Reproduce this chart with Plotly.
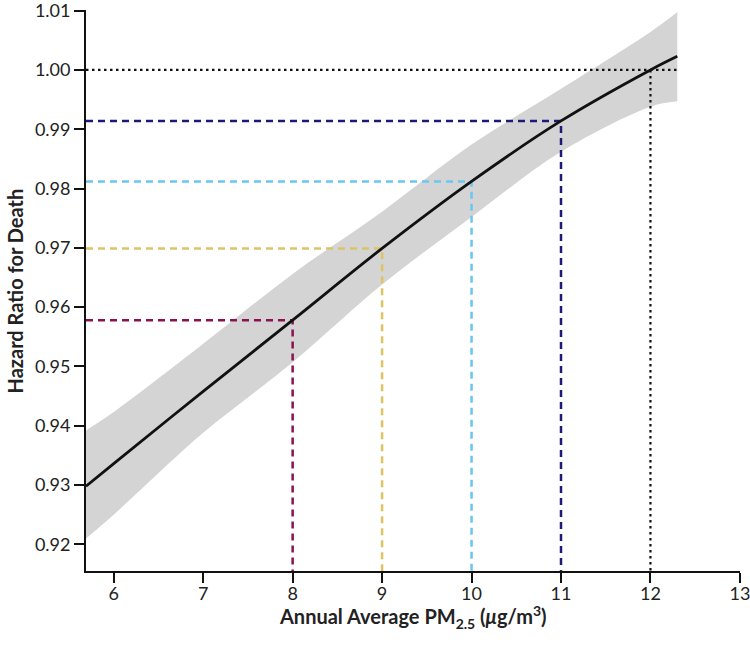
import plotly.graph_objects as go

# Data
pm25 = [5.69, 6, 7, 8, 9, 10, 11, 12, 12.3]
hazard_ratio = [0.9298, 0.9336, 0.9458, 0.9578, 0.9699, 0.9812, 0.9914, 1.0000, 1.0023]
ci_upper = [0.9392, 0.9423, 0.9538, 0.9656, 0.9761, 0.9874, 0.9968, 1.0064, 1.0097]
ci_lower = [0.9210, 0.9250, 0.9388, 0.9507, 0.9638, 0.9752, 0.9862, 0.9938, 0.9947]

ref_pm = [8, 9, 10, 11]
ref_hr = [0.9578, 0.9699, 0.9812, 0.9914]
ref_colors = ["#8b1250", "#dcc366", "#6cc6ef", "#1c1a78"]

standard_pm = 12
standard_hr = 1.00

x_ticks = [6, 7, 8, 9, 10, 11, 12, 13]
y_ticks = [0.92, 0.93, 0.94, 0.95, 0.96, 0.97, 0.98, 0.99, 1.00, 1.01]

x_title = "<b>Annual Average PM<sub>2.5</sub> (<i>μ</i>g/m<sup>3</sup>)</b>"
y_title = "<b>Hazard Ratio for Death</b>"

x_min, x_max = 5.69, 13.001
y_min, y_max = 0.9155, 1.0101

fig = go.Figure()

# Confidence band
fig.add_trace(go.Scatter(x=pm25, y=ci_upper, mode="lines", line=dict(width=0, shape="spline"),
                         hoverinfo="skip", showlegend=False))
fig.add_trace(go.Scatter(x=pm25, y=ci_lower, mode="lines", line=dict(width=0, shape="spline"),
                         fill="tonexty", fillcolor="#d4d4d4", hoverinfo="skip", showlegend=False))

# Reference dashed lines
for xv, yv, c in zip(ref_pm, ref_hr, ref_colors):
    fig.add_trace(go.Scatter(x=[x_min, xv, xv], y=[yv, yv, y_min], mode="lines",
                             line=dict(color=c, width=2.5, dash="7px,5px"),
                             showlegend=False, hoverinfo="skip"))

# Standard (dotted black)
fig.add_trace(go.Scatter(x=[x_min, pm25[-1]], y=[standard_hr, standard_hr], mode="lines",
                         line=dict(color="#111111", width=2.2, dash="2.5px,3.5px"),
                         showlegend=False, hoverinfo="skip"))
fig.add_trace(go.Scatter(x=[standard_pm, standard_pm], y=[standard_hr, y_min], mode="lines",
                         line=dict(color="#111111", width=2.2, dash="2.5px,3.5px"),
                         showlegend=False, hoverinfo="skip"))

# Main curve
fig.add_trace(go.Scatter(x=pm25, y=hazard_ratio, mode="lines",
                         line=dict(color="#111111", width=2.8, shape="spline"),
                         showlegend=False))

font_family = "Lato, 'Open Sans', sans-serif"

fig.update_layout(
    width=750, height=645,
    margin=dict(l=86, r=10, t=10, b=74),
    plot_bgcolor="white", paper_bgcolor="white",
    font=dict(family=font_family, size=18, color="#222222"),
    xaxis=dict(
        range=[x_min, x_max], tickvals=x_ticks, ticktext=[str(t) for t in x_ticks],
        automargin=False, ticklabeloverflow="allow", ticklabelstandoff=-5,
        showgrid=False, zeroline=False, showline=True, linecolor="#111111", linewidth=1.8,
        ticks="outside", ticklen=10, tickwidth=1.8, tickcolor="#111111",
        tickfont=dict(size=18, color="#222222"),
    ),
    yaxis=dict(
        range=[y_min, y_max], tickvals=y_ticks, tickformat=".2f",
        automargin=False, ticklabeloverflow="allow",
        showgrid=False, zeroline=False, showline=True, linecolor="#111111", linewidth=1.8,
        ticks="outside", ticklen=10, tickwidth=1.8, tickcolor="#111111",
        tickfont=dict(size=18, color="#222222"),
    ),
    annotations=[
        dict(text=x_title, xref="paper", yref="paper", x=0.5, y=-0.082,
             xanchor="center", yanchor="middle", showarrow=False,
             font=dict(size=20, color="#222222")),
        dict(text=y_title, xref="paper", yref="paper", x=-0.1086, y=0.5,
             xanchor="center", yanchor="middle", textangle=-90, showarrow=False,
             font=dict(size=20, color="#222222")),
    ],
)

fig.write_html("out.html", config={"displayModeBar": False},
               post_script="document.body.style.margin='0';")
